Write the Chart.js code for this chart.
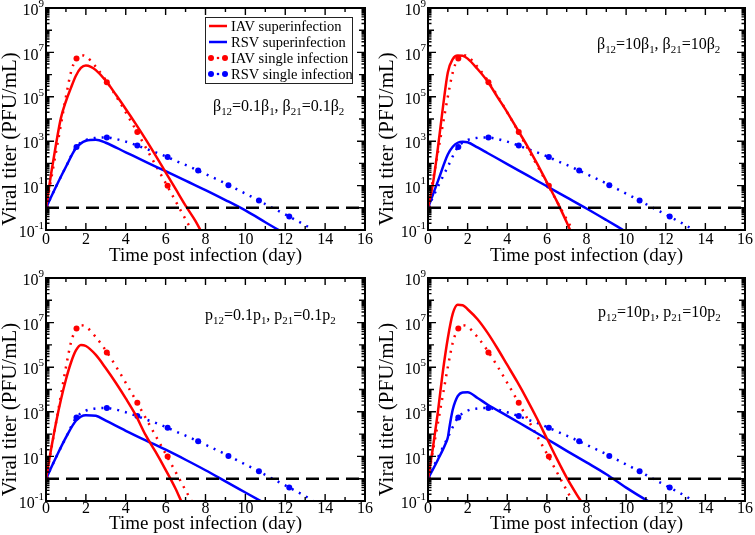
<!DOCTYPE html>
<html>
<head>
<meta charset="utf-8">
<script src="https://cdn.jsdelivr.net/npm/chart.js@4.4.0/dist/chart.umd.min.js"></script>
<style>
  body { margin: 0; background: #fff; width: 755px; height: 535px; overflow: hidden; position: relative; }
  .panel { position: absolute; }
</style>
</head>
<body>
<div class="panel" style="left:0;top:0;width:377px;height:267px"><canvas id="tl"></canvas></div>
<div class="panel" style="left:377px;top:0;width:378px;height:267px"><canvas id="tr"></canvas></div>
<div class="panel" style="left:0;top:267px;width:377px;height:268px"><canvas id="bl"></canvas></div>
<div class="panel" style="left:377px;top:267px;width:378px;height:268px"><canvas id="br"></canvas></div>
<script>

// single infections (same curves in every panel)
const iavSingleT = [0, 0.25, 0.5, 0.75, 1, 1.25, 1.5, 1.75, 2, 2.5, 3, 3.5, 4, 4.5, 5, 5.5, 6, 6.5, 7, 7.3];
const iavSingleLog = [0, 1.25, 2.5, 3.75, 5.0, 6.1, 6.7, 6.88, 6.82, 6.35, 5.75, 5.05, 4.3, 3.52, 2.72, 1.92, 1.12, 0.3, -0.52, -1.0];
const rsvSingleT = [0, 0.5, 1, 1.5, 2, 2.5, 3, 3.5, 4, 4.5, 5, 5.5, 6, 6.5, 7, 7.5, 8, 8.5, 9, 9.5, 10, 10.5, 11, 11.5, 12, 12.5, 13, 13.4];
const rsvSingleLog = [0, 0.95, 1.85, 2.72, 3.05, 3.15, 3.17, 3.1, 2.98, 2.83, 2.66, 2.5, 2.32, 2.12, 1.93, 1.73, 1.52, 1.31, 1.1, 0.87, 0.64, 0.41, 0.17, -0.07, -0.3, -0.54, -0.78, -1.0];
const iavMarkT = [0, 1.53, 3.05, 4.58, 6.1];
const iavMarkLog = [0, 6.73, 5.66, 3.41, 0.99];
const rsvMarkT = [0, 1.53, 3.05, 4.58, 6.1, 7.63, 9.15, 10.68, 12.2];
const rsvMarkLog = [0, 2.74, 3.17, 2.81, 2.29, 1.68, 1.02, 0.33, -0.39];

// detection limit
const limitT = [0, 16];
const limitLog = [0, 0];

// top-left: beta12 = 0.1 beta1
const tlIavT = [0, 0.25, 0.5, 0.75, 1, 1.25, 1.5, 1.75, 2, 2.25, 2.5, 3, 3.5, 4, 4.5, 5, 5.5, 6, 6.5, 7, 7.5, 7.8];
const tlIavLog = [0, 1.5, 2.85, 4.05, 4.8, 5.4, 5.95, 6.3, 6.41, 6.35, 6.2, 5.72, 5.1, 4.45, 3.78, 3.08, 2.35, 1.6, 0.85, 0.1, -0.6, -1.1];
const tlRsvT = [0, 0.5, 1, 1.5, 2, 2.5, 3, 4, 5, 6, 7, 8, 9, 10, 11, 11.7];
const tlRsvLog = [0, 0.95, 1.85, 2.68, 3.02, 3.07, 2.93, 2.5, 2.07, 1.65, 1.22, 0.8, 0.35, -0.12, -0.65, -1.02];

// top-right: beta12 = 10 beta1
const trIavT = [0, 0.25, 0.5, 0.75, 1, 1.25, 1.5, 1.75, 2, 2.5, 3, 3.5, 4, 4.5, 5, 5.5, 6, 6.5, 7, 7.2];
const trIavLog = [0, 1.1, 2.7, 4.5, 6.1, 6.7, 6.86, 6.85, 6.72, 6.25, 5.7, 5.0, 4.3, 3.55, 2.8, 2.0, 1.15, 0.3, -0.65, -1.05];
const trRsvT = [0, 0.5, 1, 1.25, 1.5, 1.75, 2, 2.5, 3, 4, 5, 6, 7, 8, 9, 9.85];
const trRsvLog = [0, 1.2, 2.4, 2.75, 2.93, 2.98, 2.95, 2.72, 2.47, 1.97, 1.47, 0.97, 0.47, -0.03, -0.55, -1.0];

// bottom-left: p12 = 0.1 p1
const blIavT = [0, 0.25, 0.5, 0.75, 1, 1.25, 1.5, 1.75, 2, 2.5, 3, 3.5, 4, 4.5, 5, 5.5, 6, 6.5, 6.8];
const blIavLog = [0, 1.3, 2.5, 3.55, 4.45, 5.2, 5.75, 6.0, 5.95, 5.55, 4.95, 4.3, 3.6, 2.85, 1.95, 1.2, 0.4, -0.45, -1.05];
const blRsvT = [0, 0.5, 1, 1.5, 2, 2.5, 3, 4, 5, 6, 7, 8, 9, 10, 10.8];
const blRsvLog = [0, 0.95, 1.85, 2.6, 2.85, 2.82, 2.6, 2.15, 1.72, 1.3, 0.85, 0.38, -0.12, -0.62, -1.02];

// bottom-right: p12 = 10 p1
const brIavT = [0, 0.25, 0.5, 0.75, 1, 1.25, 1.5, 1.75, 2, 2.5, 3, 3.5, 4, 4.5, 5, 5.5, 6, 6.5, 7, 7.5, 7.75];
const brIavLog = [0, 1.4, 3.0, 4.8, 6.3, 7.4, 7.8, 7.78, 7.6, 7.15, 6.55, 5.85, 5.1, 4.35, 3.55, 2.7, 1.8, 0.9, 0.05, -0.7, -1.05];
const brRsvT = [0, 0.5, 0.9, 1, 1.1, 1.25, 1.5, 1.75, 2, 2.5, 3, 4, 5, 6, 7, 8, 9, 10, 11, 11.1];
const brRsvLog = [0, 0.85, 1.6, 1.85, 2.4, 3.1, 3.7, 3.87, 3.88, 3.62, 3.33, 2.82, 2.3, 1.78, 1.25, 0.73, 0.2, -0.4, -0.95, -1.0];

// axis labels and texts
const xTickLabels = [0, 2, 4, 6, 8, 10, 12, 14, 16];
const yLabelExps = [9, 7, 5, 3, 1, -1];
const legendLabels = ['IAV superinfection', 'RSV superinfection', 'IAV single infection', 'RSV single infection'];
const panelNotes = [
  'β_{12}=0.1β_{1}, β_{21}=0.1β_{2}',
  'β_{12}=10β_{1}, β_{21}=10β_{2}',
  'p_{12}=0.1p_{1}, p_{21}=0.1p_{2}',
  'p_{12}=10p_{1}, p_{21}=10p_{2}'
];

const FONT = '"Liberation Serif", "Times New Roman", serif';
const RED = '#ff0000';
const BLUE = '#0000ff';

function toPoints(ts, logs) {
  return ts.map((t, i) => ({ x: t, y: Math.pow(10, logs[i]) }));
}

// text with _{sub} and ^{sup} pieces, left aligned on the baseline
function drawRich(ctx, str, x, y, size) {
  const parts = str.split(/([_^]\{[^}]*\})/).filter(Boolean);
  let cx = x;
  ctx.textAlign = 'left';
  ctx.textBaseline = 'alphabetic';
  parts.forEach(p => {
    if (p[0] === '_' || p[0] === '^') {
      const txt = p.slice(2, -1);
      ctx.font = (size * 0.68) + 'px ' + FONT;
      ctx.fillText(txt, cx, y + (p[0] === '_' ? size * 0.28 : -size * 0.42));
      cx += ctx.measureText(txt).width;
    } else {
      ctx.font = size + 'px ' + FONT;
      ctx.fillText(p, cx, y);
      cx += ctx.measureText(p).width;
    }
  });
}

function drawPow(ctx, exp, xRight, y) {
  ctx.textAlign = 'left';
  ctx.textBaseline = 'middle';
  ctx.font = '16px ' + FONT;
  const wb = ctx.measureText('10').width;
  ctx.font = '11px ' + FONT;
  const we = ctx.measureText(String(exp)).width;
  ctx.fillText(String(exp), xRight - we, y - 4);
  ctx.font = '16px ' + FONT;
  ctx.fillText('10', xRight - we - wb, y + 3);
}

// frame, inward ticks, labels, titles, note and legend
const framePlugin = {
  id: 'frame',
  afterDraw(chart, args, opts) {
    const { ctx, chartArea: a, scales: { x, y } } = chart;
    ctx.save();
    ctx.fillStyle = '#000';
    ctx.strokeStyle = '#000';

    // ticks
    ctx.lineWidth = 1.4;
    ctx.beginPath();
    for (let t = 0; t <= 16; t++) {
      const px = x.getPixelForValue(t);
      const len = t % 2 === 0 ? 7 : 4;
      ctx.moveTo(px, a.bottom); ctx.lineTo(px, a.bottom - len);
      ctx.moveTo(px, a.top); ctx.lineTo(px, a.top + len);
    }
    for (let e = -1; e <= 8; e++) {
      for (let m = 1; m <= 9; m++) {
        const py = y.getPixelForValue(m * Math.pow(10, e));
        const len = m === 1 ? (Math.abs(e) % 2 === 1 ? 8 : 6) : 3.5;
        ctx.moveTo(a.left, py); ctx.lineTo(a.left + len, py);
        ctx.moveTo(a.right, py); ctx.lineTo(a.right - len, py);
      }
    }
    ctx.stroke();

    ctx.lineWidth = 2;
    ctx.strokeRect(a.left, a.top, a.right - a.left, a.bottom - a.top);

    // tick labels
    ctx.font = '16px ' + FONT;
    ctx.textAlign = 'center';
    ctx.textBaseline = 'middle';
    xTickLabels.forEach(v => {
      ctx.fillText(String(v), x.getPixelForValue(v), a.bottom + opts.tickGap);
    });
    yLabelExps.forEach(e => {
      drawPow(ctx, e, a.left - 2, y.getPixelForValue(Math.pow(10, e)));
    });

    // axis titles
    ctx.font = '19px ' + FONT;
    ctx.textAlign = 'center';
    ctx.textBaseline = 'middle';
    ctx.fillText('Time post infection (day)', (a.left + a.right) / 2, a.bottom + opts.titleGap);
    ctx.save();
    ctx.translate(10, (a.top + a.bottom) / 2 + 20);
    ctx.rotate(-Math.PI / 2);
    ctx.font = '21px ' + FONT;
    ctx.fillText('Viral titer (PFU/mL)', 0, 0);
    ctx.restore();

    // parameter note
    drawRich(ctx, opts.note, opts.noteX, opts.noteY, 16);

    // legend (first panel only)
    if (opts.legend) {
      const lx = 205, ly = 17, lw = 147, lh = 66;
      ctx.fillStyle = '#fff';
      ctx.fillRect(lx, ly, lw, lh);
      ctx.lineWidth = 1;
      ctx.strokeStyle = '#222';
      ctx.strokeRect(lx + 0.5, ly + 0.5, lw, lh);
      const colors = [RED, BLUE, RED, BLUE];
      legendLabels.forEach((lab, i) => {
        const ry = ly + 9 + i * 16;
        ctx.strokeStyle = colors[i];
        ctx.fillStyle = colors[i];
        if (i < 2) {
          ctx.lineWidth = 2.5;
          ctx.beginPath();
          ctx.moveTo(lx + 4, ry); ctx.lineTo(lx + 22, ry);
          ctx.stroke();
        } else {
          [[lx + 6, 3], [lx + 13, 1.3], [lx + 20, 3]].forEach(([cx, r]) => {
            ctx.beginPath();
            ctx.arc(cx, ry, r, 0, Math.PI * 2);
            ctx.fill();
          });
        }
        ctx.fillStyle = '#000';
        ctx.font = '14.5px ' + FONT;
        ctx.textAlign = 'left';
        ctx.textBaseline = 'middle';
        ctx.fillText(lab, lx + 26, ry + 1);
      });
    }
    ctx.restore();
  }
};

function makePanel(id, iavT, iavLog, rsvT, rsvLog, padding, extra) {
  const datasets = [
    {
      data: toPoints(limitT, limitLog),
      borderColor: '#000', borderWidth: 2.5, borderDash: [13, 7], pointRadius: 0
    },
    {
      data: toPoints(iavT, iavLog),
      borderColor: RED, borderWidth: 2.5, pointRadius: 0, cubicInterpolationMode: 'monotone'
    },
    {
      data: toPoints(rsvT, rsvLog),
      borderColor: BLUE, borderWidth: 2.5, pointRadius: 0, cubicInterpolationMode: 'monotone'
    },
    {
      data: toPoints(iavSingleT, iavSingleLog),
      borderColor: RED, borderWidth: 2.5, borderDash: [2, 6], pointRadius: 0, cubicInterpolationMode: 'monotone'
    },
    {
      data: toPoints(rsvSingleT, rsvSingleLog),
      borderColor: BLUE, borderWidth: 2.5, borderDash: [2, 6], pointRadius: 0, cubicInterpolationMode: 'monotone'
    },
    {
      data: toPoints(iavMarkT, iavMarkLog),
      showLine: false, pointRadius: 3, pointBorderWidth: 0, pointBackgroundColor: RED
    },
    {
      data: toPoints(rsvMarkT, rsvMarkLog),
      showLine: false, pointRadius: 3, pointBorderWidth: 0, pointBackgroundColor: BLUE
    }
  ];

  return new Chart(document.getElementById(id), {
    type: 'line',
    data: { datasets },
    options: {
      responsive: true,
      maintainAspectRatio: false,
      animation: false,
      devicePixelRatio: 1,
      events: [],
      layout: { padding },
      plugins: {
        legend: { display: false },
        tooltip: { enabled: false },
        frame: extra
      },
      scales: {
        x: { type: 'linear', min: 0, max: 16, display: false },
        y: { type: 'logarithmic', min: 0.1, max: 1e9, display: false }
      }
    },
    plugins: [framePlugin]
  });
}

makePanel('tl', tlIavT, tlIavLog, tlRsvT, tlRsvLog,
  { left: 46, top: 8, right: 12, bottom: 37 },
  { tickGap: 10, titleGap: 26, note: panelNotes[0], noteX: 213, noteY: 111, legend: true });
makePanel('tr', trIavT, trIavLog, trRsvT, trRsvLog,
  { left: 51, top: 8, right: 10, bottom: 37 },
  { tickGap: 10, titleGap: 26, note: panelNotes[1], noteX: 220, noteY: 49, legend: false });
makePanel('bl', blIavT, blIavLog, blRsvT, blRsvLog,
  { left: 46, top: 11, right: 12, bottom: 34 },
  { tickGap: 8, titleGap: 23, note: panelNotes[2], noteX: 205, noteY: 53, legend: false });
makePanel('br', brIavT, brIavLog, brRsvT, brRsvLog,
  { left: 51, top: 11, right: 10, bottom: 34 },
  { tickGap: 8, titleGap: 23, note: panelNotes[3], noteX: 221, noteY: 50, legend: false });
</script>
</body>
</html>
